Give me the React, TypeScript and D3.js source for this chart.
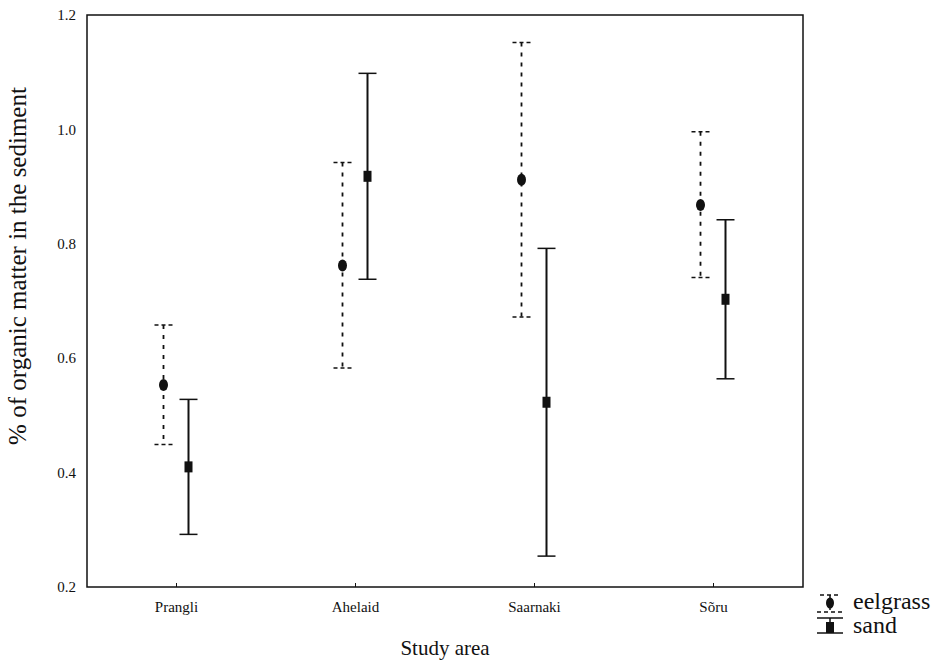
import React from "react";
import * as d3 from "d3";

// data (mean with confidence interval)
const categories = ["Prangli", "Ahelaid", "Saarnaki", "Sõru"];
const eelgrassMean = [0.553, 0.762, 0.912, 0.868];
const eelgrassLow = [0.449, 0.583, 0.672, 0.741];
const eelgrassHigh = [0.658, 0.942, 1.152, 0.996];
const sandMean = [0.41, 0.918, 0.523, 0.703];
const sandLow = [0.292, 0.738, 0.254, 0.564];
const sandHigh = [0.528, 1.098, 0.792, 0.842];
const yTicks = [0.2, 0.4, 0.6, 0.8, 1.0, 1.2];

const W = 932;
const H = 663;
const margin = { left: 87, right: 129, top: 15, bottom: 76 };
const font = "Liberation Serif, Times New Roman, Times, serif";
const txt = { fontFamily: font, fill: "#111" };

export default function App() {
  const x = d3
    .scaleBand<string>()
    .domain(categories)
    .range([margin.left, W - margin.right])
    .padding(0);
  const y = d3
    .scaleLinear()
    .domain([0.2, 1.2])
    .range([H - margin.bottom, margin.top]);

  const cx = (c: string) => (x(c) as number) + x.bandwidth() / 2;
  const off = 13;
  const capW = 9;

  return (
    <svg
      width={W}
      height={H}
      style={{ position: "absolute", left: 0, top: 0, background: "#fff", fontFamily: font }}
    >
      {/* frame */}
      <rect
        x={margin.left}
        y={margin.top}
        width={W - margin.left - margin.right}
        height={H - margin.top - margin.bottom}
        fill="none"
        stroke="#111"
        strokeWidth={1.5}
      />

      {/* y tick labels */}
      {yTicks.map((t) => (
        <text
          key={t}
          x={76}
          y={y(t)}
          dy="0.35em"
          textAnchor="end"
          fontSize={15}
          style={txt}
        >
          {d3.format(".1f")(t)}
        </text>
      ))}

      {/* x ticks + labels */}
      {categories.map((c) => (
        <g key={c}>
          <line
            x1={cx(c)}
            x2={cx(c)}
            y1={y(0.2)}
            y2={y(0.2) - 4}
            stroke="#111"
            strokeWidth={1}
          />
          <text x={cx(c)} y={612} textAnchor="middle" fontSize={15} style={txt}>
            {c}
          </text>
        </g>
      ))}

      {/* eelgrass (dashed, ellipse) */}
      {categories.map((c, i) => {
        const px = cx(c) - off;
        return (
          <g key={"e" + c}>
            <line
              x1={px}
              x2={px}
              y1={y(eelgrassHigh[i])}
              y2={y(eelgrassLow[i])}
              stroke="#111"
              strokeWidth={1.8}
              strokeDasharray="4,6"
            />
            {[eelgrassHigh[i], eelgrassLow[i]].map((v, k) => (
              <line
                key={k}
                x1={px - capW}
                x2={px + capW}
                y1={y(v)}
                y2={y(v)}
                stroke="#111"
                strokeWidth={1.5}
                strokeDasharray="4,3"
              />
            ))}
            <ellipse cx={px} cy={y(eelgrassMean[i])} rx={4.5} ry={6} fill="#111" />
          </g>
        );
      })}

      {/* sand (solid, square) */}
      {categories.map((c, i) => {
        const px = cx(c) + off - 1;
        return (
          <g key={"s" + c}>
            <line
              x1={px}
              x2={px}
              y1={y(sandHigh[i])}
              y2={y(sandLow[i])}
              stroke="#111"
              strokeWidth={2}
            />
            {[sandHigh[i], sandLow[i]].map((v, k) => (
              <line
                key={k}
                x1={px - capW}
                x2={px + capW}
                y1={y(v)}
                y2={y(v)}
                stroke="#111"
                strokeWidth={1.5}
              />
            ))}
            <rect
              x={px - 4}
              y={y(sandMean[i]) - 5.5}
              width={8}
              height={11}
              fill="#111"
            />
          </g>
        );
      })}

      {/* axis titles */}
      <text
        x={(margin.left + W - margin.right) / 2}
        y={655}
        textAnchor="middle"
        fontSize={21}
        style={txt}
      >
        Study area
      </text>
      <text
        transform="translate(26,266) rotate(-90)"
        textAnchor="middle"
        fontSize={25}
        style={txt}
      >
        % of organic matter in the sediment
      </text>

      {/* legend */}
      <g>
        <line x1={820} x2={840} y1={595} y2={595} stroke="#111" strokeWidth={1.3} strokeDasharray="4,3" />
        <line x1={830} x2={830} y1={595} y2={612} stroke="#111" strokeWidth={1.5} strokeDasharray="3,3" />
        <ellipse cx={830} cy={603} rx={4} ry={5.5} fill="#111" />
        <line x1={817} x2={843} y1={612} y2={612} stroke="#111" strokeWidth={1.3} strokeDasharray="4,3" />
        <text x={853} y={609} fontSize={24} style={txt}>eelgrass</text>

        <line x1={817} x2={843} y1={618} y2={618} stroke="#111" strokeWidth={1.5} />
        <line x1={830} x2={830} y1={618} y2={633} stroke="#111" strokeWidth={1.5} />
        <rect x={826} y={622} width={8} height={11} fill="#111" />
        <line x1={817} x2={843} y1={633} y2={633} stroke="#111" strokeWidth={1.5} />
        <text x={853} y={633} fontSize={24} style={txt}>sand</text>
      </g>
    </svg>
  );
}
